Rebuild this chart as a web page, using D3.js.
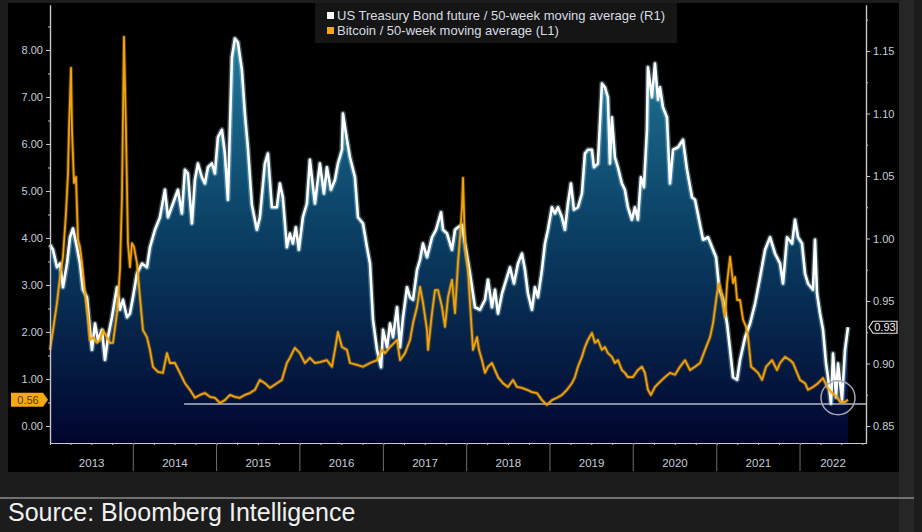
<!DOCTYPE html>
<html>
<head>
<meta charset="utf-8">
<script src="https://cdn.jsdelivr.net/npm/d3@7"></script>
<style>
html,body{margin:0;padding:0;background:#1c1c1c;overflow:hidden;}
svg{display:block;}
</style>
</head>
<body>
<div id="app"></div>
<script>
// [decimal year, ratio]
const treasuryRatio = [[2013.000,0.995],[2013.036,0.991],[2013.084,0.977],[2013.120,0.980],[2013.156,0.961],[2013.204,0.980],[2013.240,1.001],[2013.276,1.008],[2013.324,0.993],[2013.360,0.980],[2013.396,0.959],[2013.444,0.953],[2013.480,0.927],[2013.504,0.911],[2013.540,0.932],[2013.576,0.919],[2013.624,0.927],[2013.660,0.903],[2013.696,0.921],[2013.744,0.937],[2013.804,0.961],[2013.840,0.943],[2013.876,0.951],[2013.924,0.937],[2013.960,0.940],[2013.996,0.953],[2014.044,0.972],[2014.104,0.980],[2014.164,0.977],[2014.200,0.993],[2014.260,1.007],[2014.320,1.017],[2014.380,1.039],[2014.416,1.017],[2014.476,1.028],[2014.536,1.039],[2014.584,1.020],[2014.620,1.055],[2014.656,1.052],[2014.704,1.012],[2014.740,1.047],[2014.776,1.060],[2014.824,1.049],[2014.860,1.044],[2014.896,1.057],[2014.944,1.060],[2014.980,1.052],[2015.016,1.081],[2015.064,1.087],[2015.100,1.068],[2015.136,1.031],[2015.184,1.145],[2015.220,1.160],[2015.256,1.157],[2015.304,1.135],[2015.340,1.100],[2015.376,1.073],[2015.424,1.027],[2015.484,1.007],[2015.520,1.017],[2015.580,1.060],[2015.616,1.068],[2015.664,1.025],[2015.724,1.025],[2015.760,1.044],[2015.796,1.033],[2015.844,0.993],[2015.880,1.004],[2015.916,0.996],[2015.952,1.009],[2015.988,0.991],[2016.036,1.017],[2016.084,1.028],[2016.120,1.063],[2016.180,1.028],[2016.240,1.060],[2016.288,1.036],[2016.324,1.057],[2016.372,1.039],[2016.420,1.047],[2016.456,1.060],[2016.504,1.071],[2016.516,1.100],[2016.564,1.079],[2016.600,1.065],[2016.660,1.049],[2016.696,1.017],[2016.756,1.012],[2016.804,0.993],[2016.840,0.980],[2016.876,0.935],[2016.924,0.911],[2016.972,0.897],[2016.996,0.927],[2017.044,0.913],[2017.080,0.932],[2017.116,0.921],[2017.164,0.945],[2017.200,0.913],[2017.236,0.937],[2017.284,0.961],[2017.320,0.953],[2017.356,0.951],[2017.404,0.975],[2017.440,0.983],[2017.476,0.996],[2017.524,0.985],[2017.584,1.001],[2017.632,1.007],[2017.692,1.021],[2017.716,1.007],[2017.764,1.004],[2017.824,0.991],[2017.860,1.007],[2017.896,1.009],[2017.944,1.011],[2017.980,0.996],[2018.040,0.972],[2018.100,0.945],[2018.160,0.943],[2018.220,0.951],[2018.256,0.967],[2018.304,0.945],[2018.340,0.959],[2018.376,0.940],[2018.424,0.956],[2018.484,0.969],[2018.520,0.977],[2018.568,0.964],[2018.616,0.980],[2018.664,0.988],[2018.700,0.975],[2018.736,0.956],[2018.784,0.943],[2018.820,0.961],[2018.856,0.953],[2018.904,0.975],[2018.940,0.996],[2018.976,1.007],[2019.024,1.025],[2019.060,1.020],[2019.096,1.025],[2019.144,1.017],[2019.180,1.007],[2019.216,1.028],[2019.252,1.044],[2019.288,1.023],[2019.336,1.025],[2019.384,1.036],[2019.420,1.068],[2019.456,1.071],[2019.504,1.071],[2019.528,1.057],[2019.576,1.060],[2019.624,1.124],[2019.660,1.121],[2019.696,1.113],[2019.720,1.060],[2019.744,1.097],[2019.780,1.065],[2019.816,1.057],[2019.864,1.044],[2019.900,1.039],[2019.936,1.025],[2019.984,1.015],[2020.020,1.025],[2020.056,1.015],[2020.092,1.049],[2020.128,1.041],[2020.164,1.087],[2020.176,1.137],[2020.224,1.113],[2020.260,1.140],[2020.296,1.111],[2020.320,1.121],[2020.356,1.105],[2020.404,1.097],[2020.440,1.044],[2020.476,1.071],[2020.536,1.073],[2020.596,1.079],[2020.644,1.055],[2020.704,1.033],[2020.740,1.031],[2020.788,1.015],[2020.836,0.999],[2020.896,1.001],[2020.944,0.993],[2020.992,0.985],[2021.028,0.961],[2021.076,0.951],[2021.124,0.932],[2021.160,0.911],[2021.196,0.889],[2021.244,0.887],[2021.280,0.903],[2021.340,0.921],[2021.400,0.932],[2021.460,0.948],[2021.520,0.969],[2021.580,0.991],[2021.640,1.001],[2021.700,0.988],[2021.760,0.980],[2021.796,0.964],[2021.844,1.001],[2021.904,0.996],[2021.940,1.015],[2021.976,1.001],[2022.024,0.996],[2022.060,0.972],[2022.096,0.964],[2022.156,0.959],[2022.180,0.999],[2022.204,0.956],[2022.240,0.940],[2022.276,0.927],[2022.312,0.900],[2022.336,0.889],[2022.372,0.868],[2022.396,0.908],[2022.432,0.873],[2022.456,0.900],[2022.504,0.871],[2022.540,0.911],[2022.576,0.929]];

const bitcoinRatio = [[2013.000,1.62],[2013.036,2.04],[2013.084,2.62],[2013.120,3.17],[2013.156,3.60],[2013.192,4.53],[2013.216,5.38],[2013.228,6.30],[2013.252,7.62],[2013.264,6.30],[2013.288,5.17],[2013.312,5.30],[2013.336,3.96],[2013.360,3.81],[2013.384,3.47],[2013.420,2.83],[2013.456,2.32],[2013.480,1.83],[2013.516,1.89],[2013.564,1.77],[2013.600,1.83],[2013.636,2.04],[2013.684,1.89],[2013.720,1.77],[2013.756,1.77],[2013.804,2.40],[2013.840,3.32],[2013.864,4.87],[2013.888,8.28],[2013.912,6.30],[2013.936,3.89],[2013.960,3.38],[2013.984,3.89],[2014.008,3.81],[2014.044,3.47],[2014.080,2.74],[2014.116,2.04],[2014.164,1.89],[2014.200,1.62],[2014.236,1.26],[2014.296,1.15],[2014.356,1.13],[2014.404,1.55],[2014.440,1.34],[2014.500,1.34],[2014.560,1.13],[2014.620,0.91],[2014.680,0.77],[2014.740,0.60],[2014.800,0.66],[2014.860,0.70],[2014.920,0.62],[2014.980,0.60],[2015.040,0.49],[2015.100,0.55],[2015.160,0.66],[2015.220,0.62],[2015.280,0.60],[2015.340,0.66],[2015.400,0.70],[2015.460,0.77],[2015.520,0.98],[2015.580,0.91],[2015.640,0.81],[2015.724,0.91],[2015.784,0.98],[2015.844,1.34],[2015.880,1.45],[2015.940,1.66],[2016.000,1.55],[2016.060,1.34],[2016.120,1.45],[2016.180,1.34],[2016.240,1.36],[2016.324,1.40],[2016.384,1.26],[2016.420,1.62],[2016.456,2.00],[2016.504,1.68],[2016.564,1.62],[2016.600,1.34],[2016.684,1.30],[2016.756,1.26],[2016.840,1.34],[2016.924,1.40],[2016.984,1.62],[2017.020,1.55],[2017.080,1.68],[2017.164,1.83],[2017.200,1.40],[2017.260,1.55],[2017.320,1.83],[2017.356,2.19],[2017.404,2.53],[2017.440,2.96],[2017.476,2.62],[2017.524,2.04],[2017.536,1.62],[2017.584,2.40],[2017.620,2.89],[2017.656,2.89],[2017.704,2.53],[2017.740,2.11],[2017.776,2.74],[2017.824,3.11],[2017.860,2.40],[2017.896,3.47],[2017.920,4.02],[2017.944,4.66],[2017.956,5.28],[2017.980,3.81],[2018.004,3.47],[2018.016,3.32],[2018.040,2.62],[2018.076,1.62],[2018.124,1.89],[2018.148,1.62],[2018.184,1.40],[2018.220,1.13],[2018.256,1.26],[2018.304,1.34],[2018.340,1.19],[2018.376,1.04],[2018.436,0.91],[2018.496,0.83],[2018.556,0.98],[2018.604,0.83],[2018.664,0.81],[2018.724,0.77],[2018.784,0.72],[2018.844,0.70],[2018.904,0.55],[2018.964,0.45],[2019.024,0.55],[2019.084,0.60],[2019.144,0.66],[2019.204,0.77],[2019.264,0.91],[2019.300,1.04],[2019.336,1.26],[2019.384,1.47],[2019.420,1.68],[2019.456,1.83],[2019.504,1.98],[2019.540,1.77],[2019.576,1.83],[2019.624,1.62],[2019.660,1.68],[2019.696,1.55],[2019.744,1.47],[2019.780,1.34],[2019.816,1.40],[2019.864,1.19],[2019.900,1.13],[2019.936,1.04],[2019.996,1.04],[2020.056,1.19],[2020.104,1.26],[2020.140,1.13],[2020.176,0.77],[2020.212,0.66],[2020.260,0.83],[2020.320,0.94],[2020.380,1.04],[2020.440,1.13],[2020.500,1.09],[2020.560,1.26],[2020.620,1.40],[2020.680,1.19],[2020.740,1.26],[2020.800,1.34],[2020.860,1.62],[2020.920,1.89],[2020.956,2.19],[2021.004,2.83],[2021.028,3.04],[2021.064,2.74],[2021.100,2.32],[2021.124,3.04],[2021.160,3.60],[2021.196,3.04],[2021.220,3.17],[2021.244,2.68],[2021.280,2.68],[2021.316,2.26],[2021.352,2.11],[2021.376,1.89],[2021.412,1.26],[2021.460,1.19],[2021.496,1.13],[2021.544,0.98],[2021.592,1.26],[2021.664,1.40],[2021.724,1.19],[2021.760,1.34],[2021.820,1.47],[2021.880,1.40],[2021.916,1.34],[2021.964,1.13],[2022.000,0.98],[2022.060,0.91],[2022.096,0.77],[2022.156,0.83],[2022.216,0.91],[2022.276,1.02],[2022.324,0.83],[2022.384,0.70],[2022.444,0.62],[2022.480,0.51],[2022.540,0.51],[2022.576,0.56]];

const leftTicks = [0, 1, 2, 3, 4, 5, 6, 7, 8];
const rightTicks = [0.85, 0.90, 0.95, 1.00, 1.05, 1.10, 1.15];
const years = [2013, 2014, 2015, 2016, 2017, 2018, 2019, 2020, 2021, 2022];
const legendNames = ["US Treasury Bond future / 50-week moving average (R1)", "Bitcoin / 50-week moving average (L1)"];
const sourceText = "Source: Bloomberg Intelligence";
const supportLevel = 0.47;      // drawn support line (L1)
const supportFrom = 2014.61;
const circleAt = [2022.456, 0.60]; // highlighted low (L1)

const width = 922, height = 532;
const plotLeft = 50, plotRight = 866, plotTop = 5, plotBottom = 443;

// decimal year -> Date
function toDate(t) {
  const y = Math.floor(t);
  const a = new Date(y, 0, 1), b = new Date(y + 1, 0, 1);
  return new Date(+a + (t - y) * (b - a));
}

const x = d3.scaleTime()
  .domain([toDate(2013), toDate(2022.792)])
  .range([plotLeft, plotRight]);
const yL = d3.scaleLinear().domain([-0.362, 8.957]).range([plotBottom, plotTop]);
const yR = d3.scaleLinear().domain([0.8364, 1.1868]).range([plotBottom, plotTop]);

const svg = d3.select("#app").append("svg")
  .attr("width", width)
  .attr("height", height)
  .attr("viewBox", [0, 0, width, height])
  .style("font-family", "'Liberation Sans', Arial, sans-serif");

// backgrounds
svg.append("rect").attr("width", width).attr("height", height).attr("fill", "#1c1c1c");
svg.append("rect").attr("x", 899).attr("y", 0).attr("width", 15).attr("height", height).attr("fill", "#262626");
svg.append("rect").attr("x", 8).attr("y", 3).attr("width", 891).attr("height", 469).attr("fill", "#000");
svg.append("line").attr("x1", 0).attr("x2", 914).attr("y1", 498).attr("y2", 498)
  .attr("stroke", "#8c8c8c").attr("stroke-width", 1.5);

const defs = svg.append("defs");
const grad = defs.append("linearGradient").attr("id", "tyFill")
  .attr("gradientUnits", "userSpaceOnUse")
  .attr("x1", 0).attr("x2", 0).attr("y1", 40).attr("y2", plotBottom);
grad.append("stop").attr("offset", "0").attr("stop-color", "#22789a");
grad.append("stop").attr("offset", "0.45").attr("stop-color", "#0b4266");
grad.append("stop").attr("offset", "1").attr("stop-color", "#01052e");

// area under treasury line
svg.append("path")
  .datum(treasuryRatio)
  .attr("fill", "url(#tyFill)")
  .attr("d", d3.area()
    .x(d => x(toDate(d[0])))
    .y0(plotBottom)
    .y1(d => yR(d[1])));

// support line
svg.append("line")
  .attr("x1", x(toDate(supportFrom))).attr("x2", plotRight)
  .attr("y1", yL(supportLevel)).attr("y2", yL(supportLevel))
  .attr("stroke", "#b4b8c0").attr("stroke-width", 1.5);

// treasury line with glow
const tyLine = d3.line().x(d => x(toDate(d[0]))).y(d => yR(d[1]));
svg.append("path").datum(treasuryRatio)
  .attr("fill", "none").attr("stroke", "#9edcf2").attr("stroke-opacity", 0.35)
  .attr("stroke-width", 5.5).attr("stroke-linejoin", "round").attr("d", tyLine);
svg.append("path").datum(treasuryRatio)
  .attr("fill", "none").attr("stroke", "#ffffff")
  .attr("stroke-width", 2.6).attr("stroke-linejoin", "round").attr("d", tyLine);

// bitcoin line
const btcLine = d3.line().x(d => x(toDate(d[0]))).y(d => yL(d[1]));
svg.append("path").datum(bitcoinRatio)
  .attr("fill", "none").attr("stroke", "#ffb300").attr("stroke-opacity", 0.3)
  .attr("stroke-width", 3.8).attr("stroke-linejoin", "round").attr("d", btcLine);
svg.append("path").datum(bitcoinRatio)
  .attr("fill", "none").attr("stroke", "#f3a20c")
  .attr("stroke-width", 1.8).attr("stroke-linejoin", "round").attr("d", btcLine);

// circle around the recent low
svg.append("circle")
  .attr("cx", x(toDate(circleAt[0]))).attr("cy", yL(circleAt[1])).attr("r", 17)
  .attr("fill", "none").attr("stroke", "#a0a6b4").attr("stroke-width", 1.5);

// axes
const tickColor = "#c6ced9";
function styleAxis(g) {
  g.select(".domain").attr("stroke", "#c8c8c8").attr("stroke-width", 1.2);
  g.selectAll(".tick line").attr("stroke", "#c8c8c8");
  g.selectAll(".tick text").attr("fill", tickColor).attr("font-size", 11)
    .style("font-family", "'Liberation Sans', Arial, sans-serif");
}

svg.append("g")
  .attr("transform", `translate(${plotLeft},0)`)
  .call(d3.axisLeft(yL).tickValues(leftTicks).tickFormat(d3.format(".2f")).tickSize(4).tickSizeOuter(0).tickPadding(3))
  .call(styleAxis);
svg.append("g")
  .attr("transform", `translate(${plotLeft},0)`)
  .call(d3.axisLeft(yL).tickValues(d3.range(0.5, 8.6, 1)).tickFormat("").tickSize(2).tickSizeOuter(0))
  .call(styleAxis);

svg.append("g")
  .attr("transform", `translate(${plotRight},0)`)
  .call(d3.axisRight(yR).tickValues(rightTicks).tickFormat(d3.format(".2f")).tickSize(4).tickSizeOuter(0).tickPadding(3))
  .call(styleAxis);
svg.append("g")
  .attr("transform", `translate(${plotRight},0)`)
  .call(d3.axisRight(yR).tickValues(d3.range(0.875, 1.18, 0.05)).tickFormat("").tickSize(2).tickSizeOuter(0))
  .call(styleAxis);

// bottom axis: quarter ticks
svg.append("g")
  .attr("transform", `translate(0,${plotBottom})`)
  .call(d3.axisBottom(x).ticks(d3.timeMonth.every(3)).tickFormat("").tickSize(2).tickSizeOuter(0))
  .call(styleAxis);

// year separators and labels
const yearG = svg.append("g");
years.forEach(yr => {
  const a = Math.max(x(new Date(yr, 0, 1)), plotLeft);
  const b = Math.min(x(new Date(yr + 1, 0, 1)), plotRight);
  if (yr > 2013) {
    yearG.append("line").attr("x1", a).attr("x2", a).attr("y1", plotBottom).attr("y2", 471)
      .attr("stroke", "#6e6e6e").attr("stroke-width", 1);
  }
  yearG.append("text").attr("x", (a + b) / 2).attr("y", 467)
    .attr("text-anchor", "middle").attr("fill", tickColor).attr("font-size", 11.5)
    .text(yr);
});

// last value tags
const lastBtc = bitcoinRatio[bitcoinRatio.length - 1][1];
const lastTy = treasuryRatio[treasuryRatio.length - 1][1];
const by = yL(lastBtc);
svg.append("path")
  .attr("d", `M11,${by - 7}H43L48,${by}L43,${by + 7}H11Z`)
  .attr("fill", "#f5a90f");
svg.append("text").attr("x", 28).attr("y", by + 4).attr("text-anchor", "middle")
  .attr("font-size", 11).attr("fill", "#5a3a00").text(d3.format(".2f")(lastBtc));

const ty = yR(lastTy);
svg.append("path")
  .attr("d", `M869,${ty}L873,${ty - 6}H897V${ty + 6}H873Z`)
  .attr("fill", "#000").attr("stroke", "#e6e6e6").attr("stroke-width", 1.2);
svg.append("text").attr("x", 885).attr("y", ty + 4).attr("text-anchor", "middle")
  .attr("font-size", 11).attr("fill", "#f0f0f0").text(d3.format(".2f")(lastTy));

// legend
const legend = svg.append("g");
legend.append("rect").attr("x", 315).attr("y", 3).attr("width", 362).attr("height", 40).attr("fill", "#151515");
const legendColors = ["#ffffff", "#f5a90f"];
legendNames.forEach((name, i) => {
  legend.append("rect").attr("x", 327).attr("y", 12 + i * 15).attr("width", 7).attr("height", 7)
    .attr("fill", legendColors[i]);
  legend.append("text").attr("x", 337).attr("y", 20 + i * 15)
    .attr("font-size", 13).attr("fill", "#d8dce2").text(name);
});

// source
svg.append("text").attr("x", 8).attr("y", 521)
  .attr("font-size", 25).attr("fill", "#f0f0f0").text(sourceText);
</script>
</body>
</html>
